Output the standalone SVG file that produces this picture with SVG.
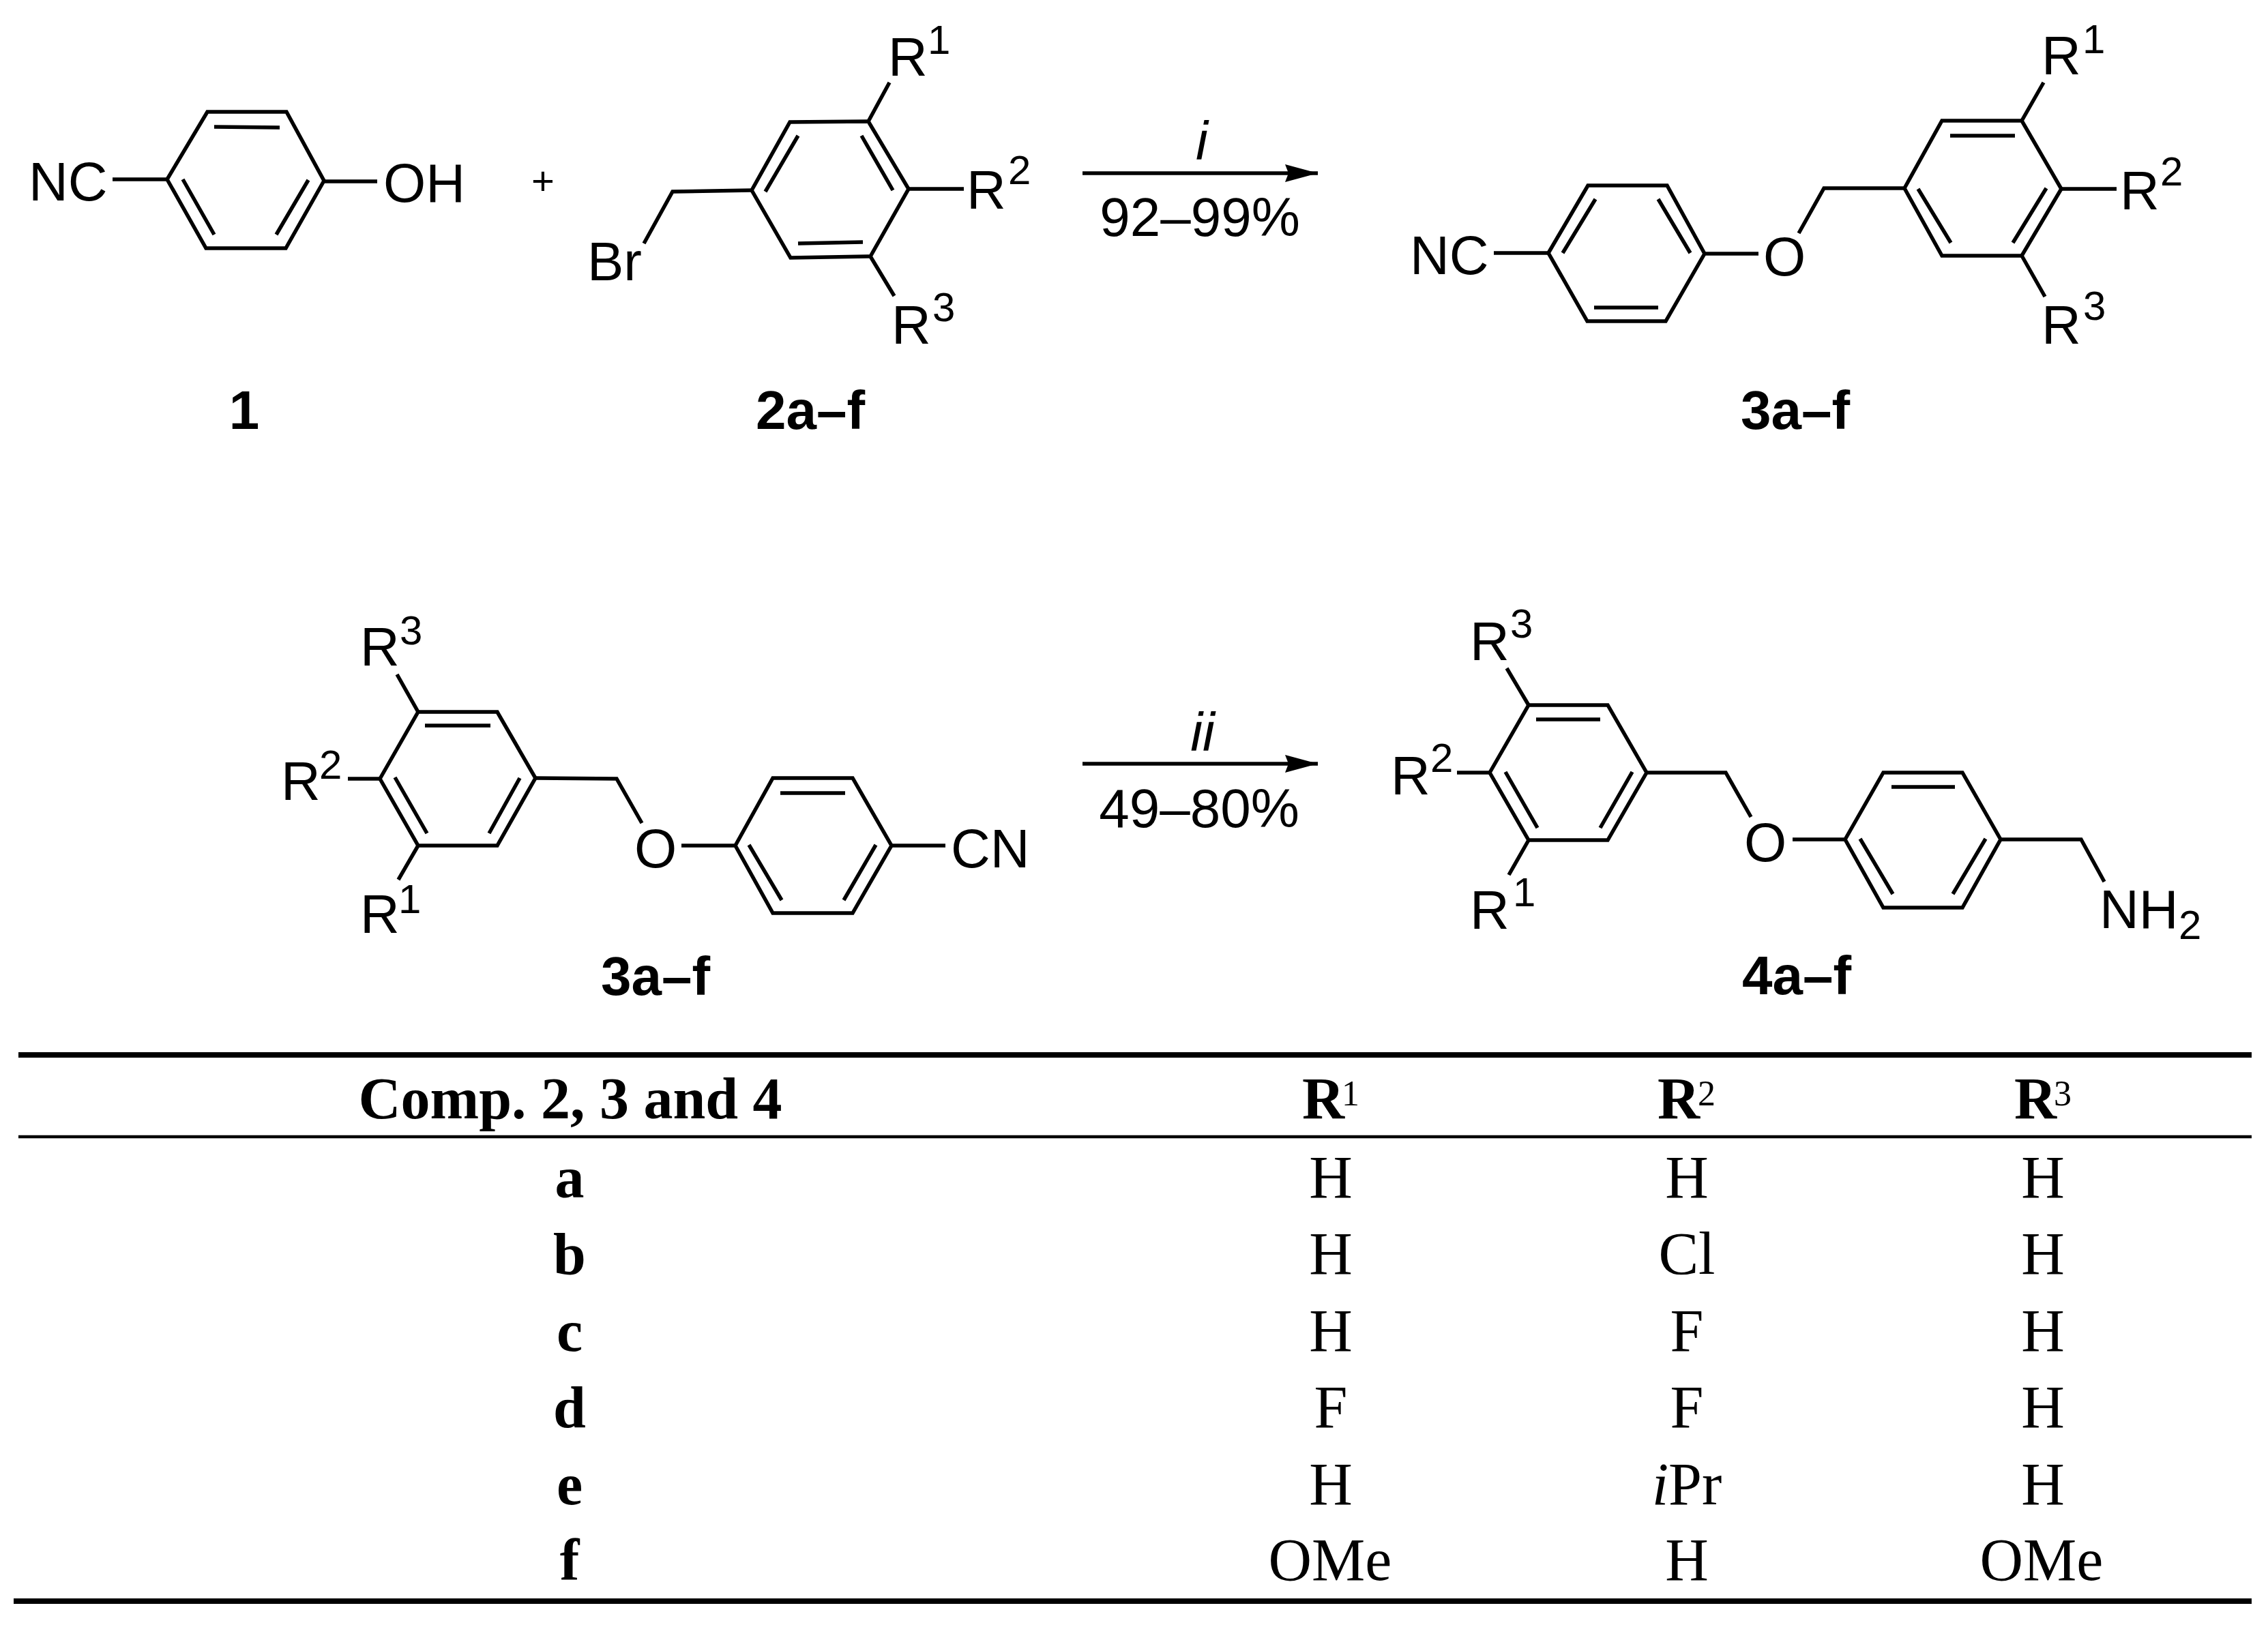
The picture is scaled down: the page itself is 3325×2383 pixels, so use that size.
<svg xmlns="http://www.w3.org/2000/svg" width="3325" height="2383" viewBox="0 0 3325 2383">
<style>
.b{fill:none;stroke:#000;stroke-width:5.5;stroke-linejoin:miter}
.t{font-family:"Liberation Sans",Arial,sans-serif;font-size:80px;fill:#000}
.s{font-size:60px}
.l{font-family:"Liberation Sans",Arial,sans-serif;font-size:80px;font-weight:bold;fill:#000;text-anchor:middle}
.r{font-family:"Liberation Serif","Times New Roman",serif;font-size:88px;fill:#000;text-anchor:middle}
.h{font-family:"Liberation Serif","Times New Roman",serif;font-size:86px;font-weight:bold;fill:#000;text-anchor:middle}
.u{font-family:"Liberation Serif","Times New Roman",serif;font-size:52px;fill:#000}
.rule{stroke:#000;fill:none}
</style>
<defs>
<marker id="head" markerUnits="userSpaceOnUse" markerWidth="50" markerHeight="28" refX="48" refY="14" orient="auto"><path d="M0 1L48 14L0 27L5 14Z" fill="#000"/></marker>
</defs>
<rect width="3325" height="2383" fill="#fff"/>
<g id="compound-1">
<polygon class="b" points="245,263 304,164 420,164 475,265 419,364 302,364"/>
<path class="b" d="M268 263L314 344M452 264L405 344M314 186L410 187M165 263H245M475 266H553"/>
<text class="t" x="42" y="294">NC</text>
<text class="t" x="562" y="296">OH</text>
<text class="l" x="358" y="629">1</text>
</g>
<text id="plus" x="796" y="285" style="font-family:'Liberation Sans',Arial,sans-serif;font-size:58px;text-anchor:middle">+</text>
<g id="compound-2">
<polygon class="b" points="1102,279 1158,179 1273,178 1332,277 1276,376 1159,378"/>
<path class="b" d="M1122 281L1170 199M1263 199L1309 279M1170 357L1265 355M1102 279L986 281L944 357M1273 178L1304 121M1332 277H1413M1276 376L1311 434"/>
<text class="t" x="861" y="411">Br</text>
<text class="t" x="1302" y="111">R<tspan class="s" x="1360" y="79">1</tspan></text>
<text class="t" x="1417" y="306">R<tspan class="s" x="1478" y="270">2</tspan></text>
<text class="t" x="1307" y="504">R<tspan class="s" x="1367" y="471">3</tspan></text>
<text class="l" x="1188" y="629">2a–f</text>
</g>
<g id="compound-3-top">
<polygon class="b" points="2270,371 2328,272 2444,272 2499,372 2442,471 2327,471"/>
<path class="b" d="M2291 371L2339 292M2431 292L2478 371M2337 451H2431M2190 371H2270M2499 372H2578M2637 342L2674 276H2792"/>
<polygon class="b" points="2792,276 2847,177 2964,177 3022,277 2964,375 2847,375"/>
<path class="b" d="M2859 199H2954M2812 277L2860 356M3000 276L2951 356M2964 177L2996 121M3022 277H3103M2964 375L2998 435"/>
<text class="t" x="2067" y="402">NC</text>
<text class="t" x="2585" y="404">O</text>
<text class="t" x="2993" y="109">R<tspan class="s" x="3053" y="78">1</tspan></text>
<text class="t" x="3108" y="307">R<tspan class="s" x="3167" y="272">2</tspan></text>
<text class="t" x="2993" y="504">R<tspan class="s" x="3054" y="469">3</tspan></text>
<text class="l" x="2632" y="629">3a–f</text>
</g>
<g id="compound-3-bottom">
<polygon class="b" points="557,1142 613,1044 729,1044 785,1141 729,1240 613,1240"/>
<path class="b" d="M623 1064H719M579 1140L626 1222M762 1141L717 1222M613 1044L582 989M557 1142H510M613 1240L584 1290M785 1141L904 1142L941 1207M999 1240H1078"/>
<polygon class="b" points="1078,1240 1133,1141 1250,1141 1307,1240 1250,1339 1133,1339"/>
<path class="b" d="M1144 1163H1239M1098 1239L1146 1320M1284 1239L1237 1320M1307 1240H1386"/>
<text class="t" x="528" y="976">R<tspan class="s" x="586" y="945">3</tspan></text>
<text class="t" x="412" y="1173">R<tspan class="s" x="468" y="1142">2</tspan></text>
<text class="t" x="528" y="1368">R<tspan class="s" x="584" y="1339">1</tspan></text>
<text class="t" x="930" y="1272">O</text>
<text class="t" x="1394" y="1272">CN</text>
<text class="l" x="961" y="1459">3a–f</text>
</g>
<g id="compound-4">
<polygon class="b" points="2184,1133 2241,1034 2357,1034 2414,1133 2357,1232 2241,1232"/>
<path class="b" d="M2252 1055H2346M2207 1132L2254 1214M2393 1132L2346 1214M2241 1034L2209 980M2184 1133H2136M2241 1232L2212 1283M2414 1133H2530L2567 1198M2628 1231H2705"/>
<polygon class="b" points="2705,1231 2761,1133 2877,1133 2933,1231 2877,1331 2761,1331"/>
<path class="b" d="M2773 1154H2866M2727 1230L2775 1311M2911 1230L2863 1311M2933 1231H3051L3085 1293"/>
<text class="t" x="2155" y="968">R<tspan class="s" x="2214" y="935">3</tspan></text>
<text class="t" x="2039" y="1165">R<tspan class="s" x="2097" y="1132">2</tspan></text>
<text class="t" x="2155" y="1362">R<tspan class="s" x="2218" y="1329">1</tspan></text>
<text class="t" x="2557" y="1263">O</text>
<text class="t" x="3078" y="1361">NH<tspan class="s" x="3194" y="1377">2</tspan></text>
<text class="l" x="2634" y="1458">4a–f</text>
</g>
<g id="connectors">
<line class="b" x1="1587" y1="254" x2="1932" y2="254" marker-end="url(#head)"/>
<line class="b" x1="1587" y1="1120" x2="1932" y2="1120" marker-end="url(#head)"/>
</g>
<g id="reaction-labels">
<text class="t" x="1762" y="234" text-anchor="middle" font-style="italic">i</text>
<text class="t" x="1759" y="346" text-anchor="middle">92–99%</text>
<text class="t" x="1763" y="1101" text-anchor="middle" font-style="italic">ii</text>
<text class="t" x="1758" y="1213" text-anchor="middle">49–80%</text>
</g>
<g id="table">
<path class="rule" stroke-width="8" d="M27 1547H3301"/>
<path class="rule" stroke-width="4.5" d="M27 1667H3301"/>
<path class="rule" stroke-width="8" d="M20 2348H3301"/>
<text class="h" x="836" y="1640" textLength="621" lengthAdjust="spacingAndGlyphs">Comp. 2, 3 and 4</text>
<text class="h" x="1940" y="1640">R</text><text class="u" x="1967" y="1621">1</text>
<text class="h" x="2461" y="1640">R</text><text class="u" x="2489" y="1621">2</text>
<text class="h" x="2984" y="1640">R</text><text class="u" x="3011" y="1621">3</text>
<text class="h" x="835" y="1756">a</text><text class="r" x="1951" y="1756">H</text><text class="r" x="2473" y="1756">H</text><text class="r" x="2995" y="1756">H</text>
<text class="h" x="835" y="1868">b</text><text class="r" x="1951" y="1868">H</text><text class="r" x="2473" y="1868">Cl</text><text class="r" x="2995" y="1868">H</text>
<text class="h" x="835" y="1981">c</text><text class="r" x="1951" y="1981">H</text><text class="r" x="2473" y="1981">F</text><text class="r" x="2995" y="1981">H</text>
<text class="h" x="835" y="2093">d</text><text class="r" x="1951" y="2093">F</text><text class="r" x="2473" y="2093">F</text><text class="r" x="2995" y="2093">H</text>
<text class="h" x="835" y="2206">e</text><text class="r" x="1951" y="2206">H</text><text class="r" x="2473" y="2206"><tspan font-style="italic">i</tspan>Pr</text><text class="r" x="2995" y="2206">H</text>
<text class="h" x="835" y="2317">f</text><text class="r" x="1950" y="2317">OMe</text><text class="r" x="2473" y="2317">H</text><text class="r" x="2993" y="2317">OMe</text>
</g>
</svg>
